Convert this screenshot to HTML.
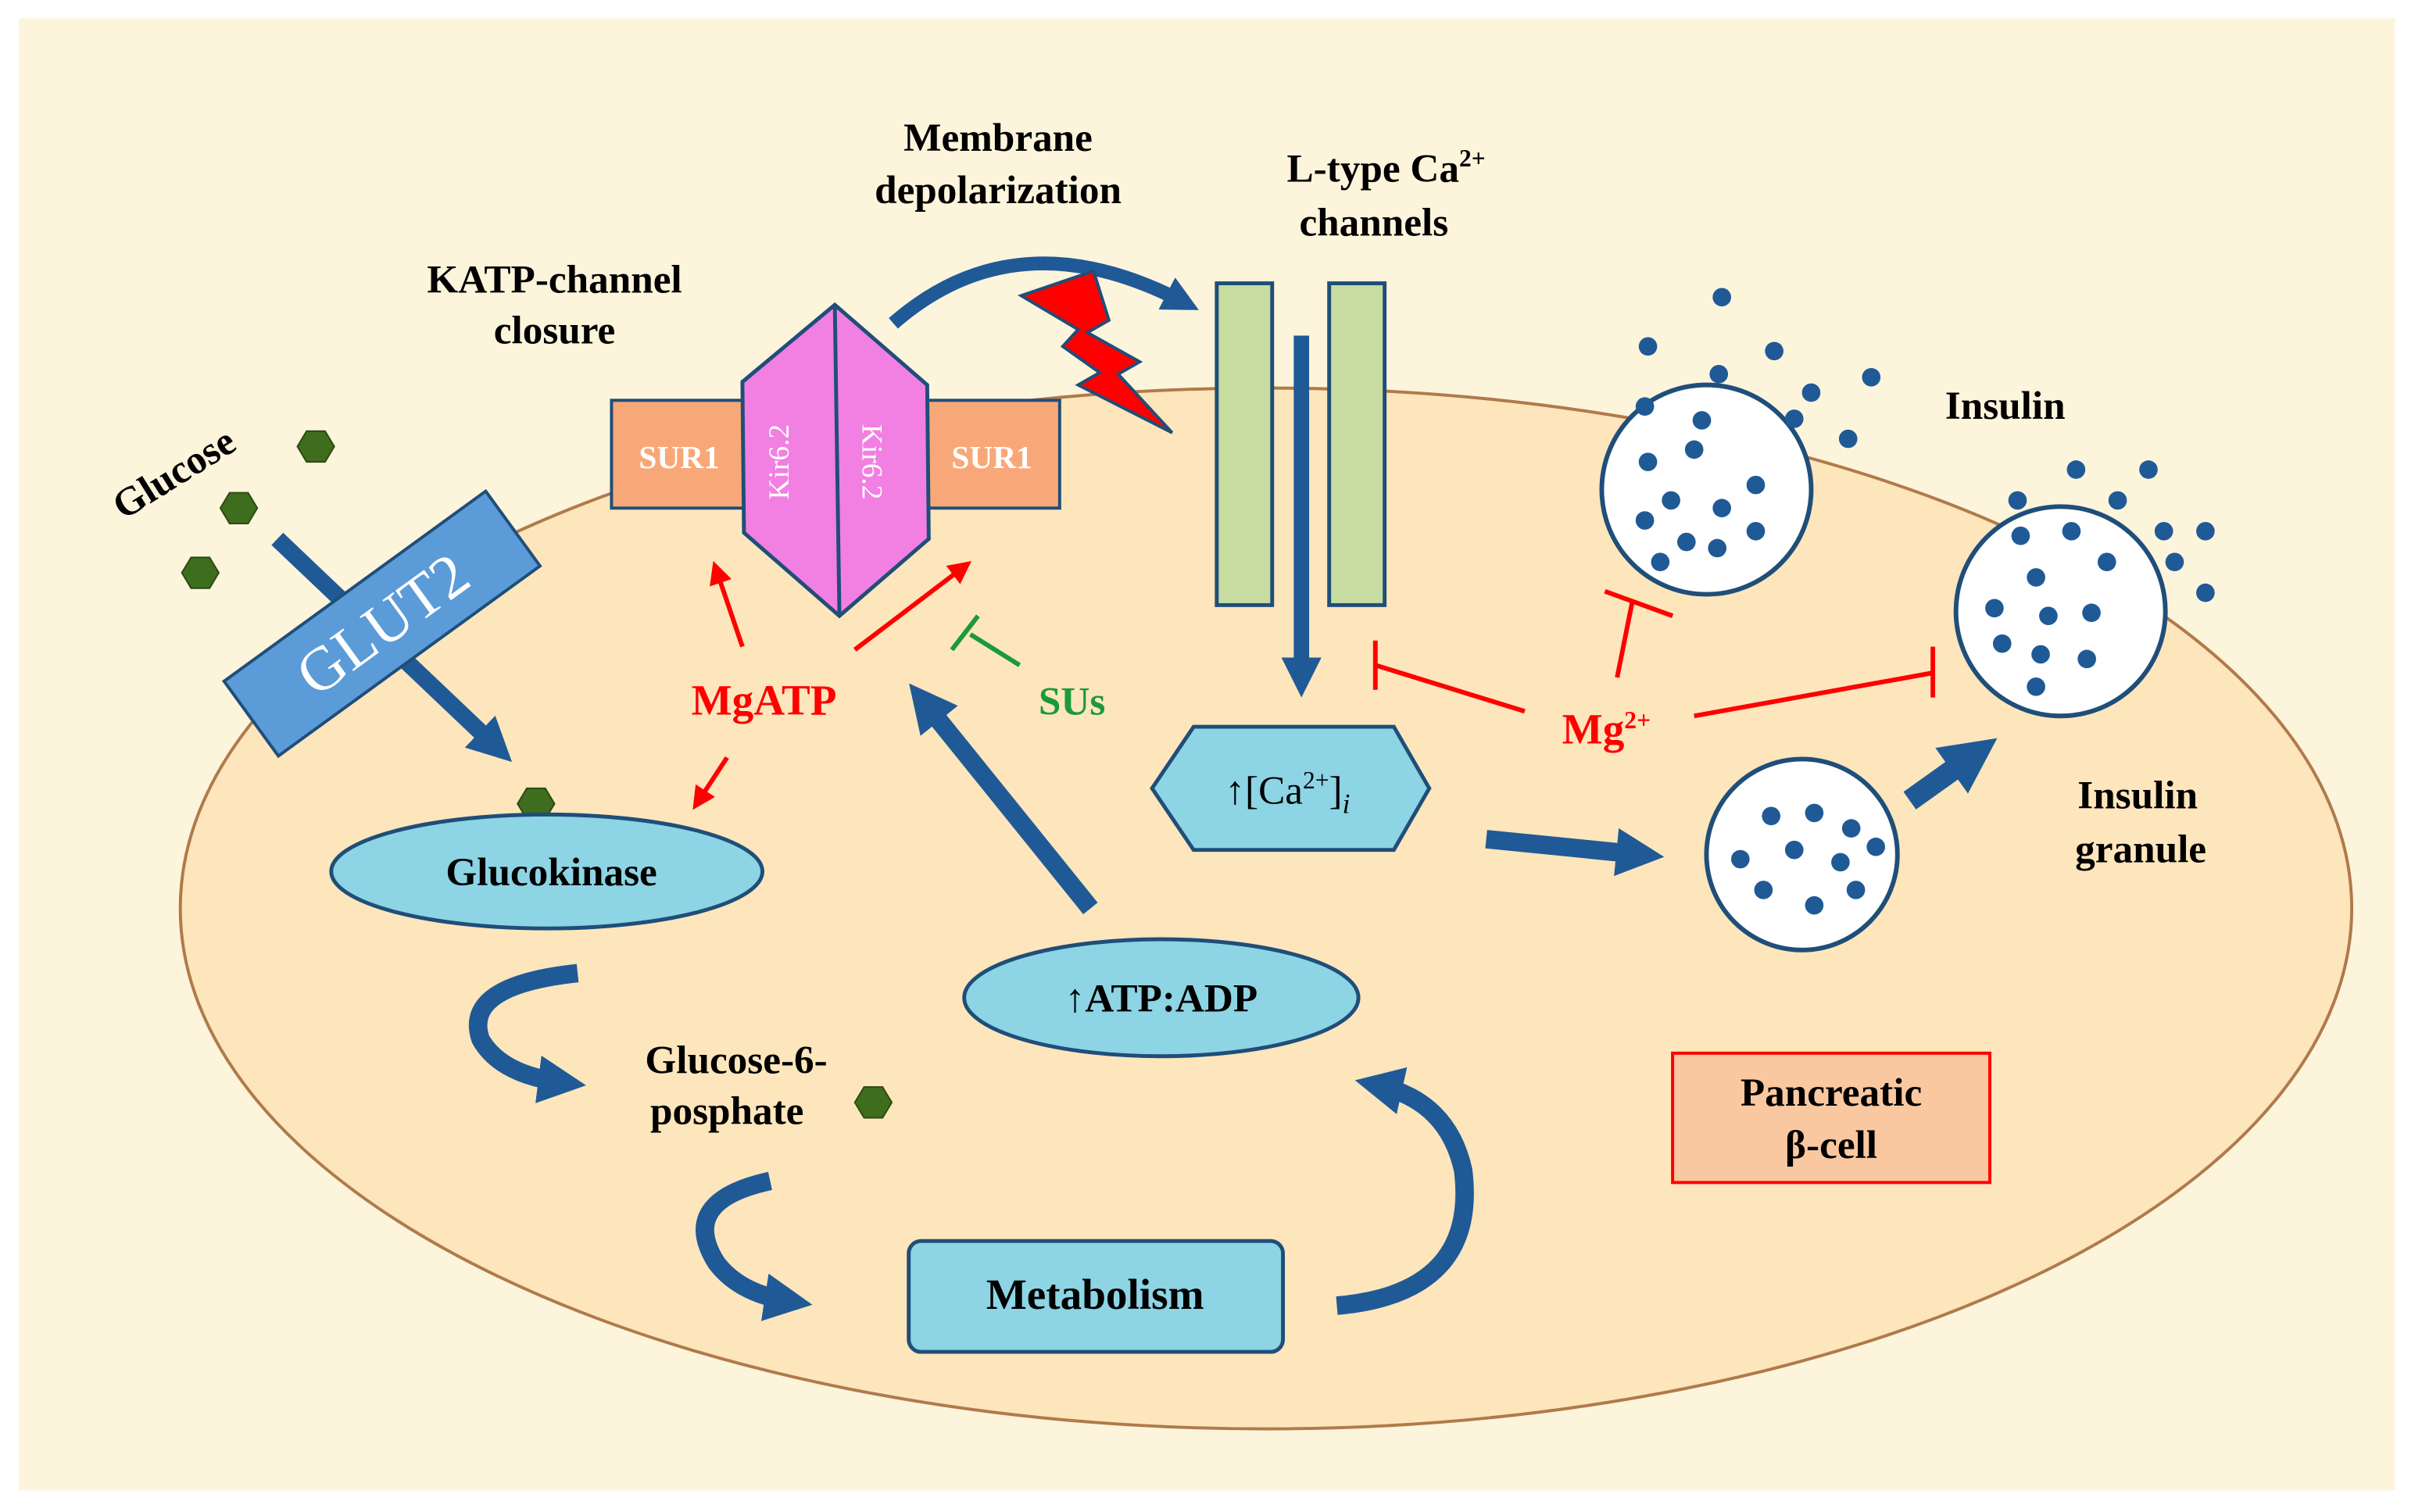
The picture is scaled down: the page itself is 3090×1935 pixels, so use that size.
<!DOCTYPE html>
<html><head><meta charset="utf-8"><style>html,body{margin:0;padding:0;background:#fff}svg{display:block}</style></head><body>
<svg width="3090" height="1935" viewBox="0 0 1568 982" xmlns="http://www.w3.org/2000/svg" font-family="Liberation Serif, serif" font-weight="bold">
<defs>
<marker id="bh" markerWidth="2.6" markerHeight="2.6" refX="1.3" refY="1.3" orient="auto" markerUnits="strokeWidth"><path d="M0,0 L2.6,1.3 L0,2.6 z" fill="#1f5a96"/></marker>
<marker id="rh" markerWidth="5" markerHeight="5" refX="3" refY="2.5" orient="auto" markerUnits="strokeWidth"><path d="M0,0 L5,2.5 L0,5 z" fill="#f00"/></marker>
</defs>
<rect width="1568" height="982" fill="#fff"/>
<rect x="12" y="12" width="1543" height="956" fill="#fdf4dc"/>
<ellipse cx="822" cy="590" rx="705" ry="338" fill="#fde5bc" stroke="#b07a4a" stroke-width="2"/>
<g fill="#3f6d1e" stroke="#2a4a12" stroke-width="1">
<polygon points="193,290 199,280 211,280 217,290 211,300 199,300"/>
<polygon points="143,330 149,320 161,320 167,330 161,340 149,340"/>
<polygon points="118,372 124,362 136,362 142,372 136,382 124,382"/>
<polygon points="336,522 342,512 354,512 360,522 354,532 342,532"/>
<polygon points="555,716 561,706 573,706 579,716 573,726 561,726"/>
</g>
<text x="0" y="0" font-size="26" transform="translate(80,338) rotate(-32)">Glucose</text>
<line x1="180" y1="350" x2="322" y2="485" stroke="#1f5a96" stroke-width="11" marker-end="url(#bh)"/>
<g transform="translate(248,405) rotate(-36)">
<rect x="-105" y="-30" width="210" height="60" fill="#5b9bd8" stroke="#1f4e79" stroke-width="2"/>
<text x="0" y="14" font-size="40" fill="#fff" text-anchor="middle" font-weight="normal">GLUT2</text>
</g>
<ellipse cx="355" cy="566" rx="140" ry="37" fill="#8dd4e4" stroke="#1f4e79" stroke-width="2.5"/>
<text x="358" y="575" font-size="26" text-anchor="middle">Glucokinase</text>
<text x="360" y="190" font-size="26" text-anchor="middle">KATP-channel</text>
<text x="360" y="223" font-size="26" text-anchor="middle">closure</text>
<text x="648" y="98" font-size="26" text-anchor="middle">Membrane</text>
<text x="648" y="132" font-size="26" text-anchor="middle">depolarization</text>
<text x="900" y="118" font-size="26" text-anchor="middle">L-type Ca<tspan font-size="16" dy="-10">2+</tspan></text>
<text x="892" y="153" font-size="26" text-anchor="middle">channels</text>
<rect x="397" y="260" width="88" height="70" fill="#f8a878" stroke="#1f4e79" stroke-width="2"/>
<rect x="600" y="260" width="88" height="70" fill="#f8a878" stroke="#1f4e79" stroke-width="2"/>
<text x="441" y="304" font-size="21" fill="#fff" text-anchor="middle">SUR1</text>
<text x="644" y="304" font-size="21" fill="#fff" text-anchor="middle">SUR1</text>
<polygon points="482,248 542,198 602,250 603,350 545,400 483,346" fill="#f27fe2" stroke="#1f4e79" stroke-width="2.5"/>
<line x1="542" y1="198" x2="545" y2="400" stroke="#1f4e79" stroke-width="2.5"/>
<text font-size="19" fill="#fff" font-weight="normal" text-anchor="middle" transform="translate(512,300) rotate(-90)">Kir6.2</text>
<text font-size="19" fill="#fff" font-weight="normal" text-anchor="middle" transform="translate(560,300) rotate(90)">Kir6.2</text>
<path d="M580,210 Q660,140 768,196" fill="none" stroke="#1f5a96" stroke-width="9" marker-end="url(#bh)"/>
<polygon points="663,192 710,176 720,208 706,216 740,235 726,243 761,281 700,250 714,242 690,225 700,214" fill="#f00" stroke="#1f4e79" stroke-width="2"/>
<rect x="790" y="184" width="36" height="209" fill="#c6dca0" stroke="#1f4e79" stroke-width="2.5"/>
<rect x="863" y="184" width="36" height="209" fill="#c6dca0" stroke="#1f4e79" stroke-width="2.5"/>
<line x1="845" y1="218" x2="845" y2="440" stroke="#1f5a96" stroke-width="10" marker-end="url(#bh)"/>
<polygon points="748,512 775,472 905,472 928,512 905,552 775,552" fill="#8dd4e4" stroke="#1f4e79" stroke-width="2.5"/>
<text x="836" y="522" font-size="26" text-anchor="middle" font-weight="normal">↑[Ca<tspan font-size="16" dy="-10">2+</tspan><tspan dy="10">]</tspan><tspan font-style="italic" font-size="18" dy="6">i</tspan></text>
<g stroke="#f00" stroke-width="3" fill="none">
<line x1="990" y1="462" x2="893" y2="432"/><line x1="893" y1="416" x2="893" y2="448"/>
<line x1="1050" y1="440" x2="1060" y2="390"/><line x1="1042" y1="384" x2="1086" y2="400"/>
<line x1="1100" y1="465" x2="1255" y2="437"/><line x1="1255" y1="420" x2="1255" y2="453"/>
<line x1="482" y1="420" x2="465" y2="370" marker-end="url(#rh)"/>
<line x1="555" y1="422" x2="626" y2="368" marker-end="url(#rh)"/>
<line x1="472" y1="492" x2="453" y2="521" marker-end="url(#rh)"/>
</g>
<g stroke="#1a9a3a" stroke-width="3"><line x1="662" y1="432" x2="630" y2="412"/><line x1="618" y1="422" x2="635" y2="400"/></g>
<text x="1043" y="483" font-size="28" fill="#f00" text-anchor="middle">Mg<tspan font-size="16" dy="-10">2+</tspan></text>
<text x="496" y="464" font-size="28" fill="#f00" text-anchor="middle">MgATP</text>
<text x="696" y="464" font-size="26" fill="#1a9a3a" text-anchor="middle">SUs</text>
<line x1="708" y1="590" x2="600" y2="456" stroke="#1f5a96" stroke-width="12" marker-end="url(#bh)"/>
<ellipse cx="754" cy="648" rx="128" ry="38" fill="#8dd4e4" stroke="#1f4e79" stroke-width="2.5"/>
<text x="754" y="657" font-size="26" text-anchor="middle">↑ATP:ADP</text>
<rect x="590" y="806" width="243" height="72" rx="8" fill="#8dd4e4" stroke="#1f4e79" stroke-width="2.5"/>
<text x="711" y="850" font-size="28" text-anchor="middle">Metabolism</text>
<text x="478" y="697" font-size="26" text-anchor="middle">Glucose-6-</text>
<text x="472" y="730" font-size="26" text-anchor="middle">posphate</text>
<g fill="none" stroke="#1f5a96" stroke-width="12">
<path d="M375,632 Q300,640 312,675 Q325,698 365,703" marker-end="url(#bh)"/>
<path d="M500,767 Q440,780 465,820 Q480,840 512,845" marker-end="url(#bh)"/>
<path d="M868,848 Q960,840 950,760 Q940,715 895,705" marker-end="url(#bh)"/>
<line x1="965" y1="545" x2="1065" y2="555" marker-end="url(#bh)"/>
<line x1="1240" y1="520" x2="1282" y2="490" marker-end="url(#bh)" stroke-width="14"/>
</g>
<g stroke="#1f4e79" stroke-width="3" fill="#fff">
<circle cx="1170" cy="555" r="62"/>
<circle cx="1108" cy="318" r="68"/>
<circle cx="1338" cy="397" r="68"/>
</g>
<g fill="#1f5a96">
<circle cx="1150" cy="530" r="6"/><circle cx="1178" cy="528" r="6"/><circle cx="1202" cy="538" r="6"/><circle cx="1130" cy="558" r="6"/><circle cx="1165" cy="552" r="6"/><circle cx="1195" cy="560" r="6"/><circle cx="1218" cy="550" r="6"/><circle cx="1145" cy="578" r="6"/><circle cx="1178" cy="588" r="6"/><circle cx="1205" cy="578" r="6"/>
<circle cx="1070" cy="300" r="6"/><circle cx="1100" cy="292" r="6"/><circle cx="1085" cy="325" r="6"/><circle cx="1118" cy="330" r="6"/><circle cx="1140" cy="315" r="6"/><circle cx="1068" cy="338" r="6"/><circle cx="1095" cy="352" r="6"/><circle cx="1115" cy="356" r="6"/><circle cx="1078" cy="365" r="6"/><circle cx="1140" cy="345" r="6"/>
<circle cx="1118" cy="193" r="6"/><circle cx="1070" cy="225" r="6"/><circle cx="1116" cy="243" r="6"/><circle cx="1152" cy="228" r="6"/><circle cx="1176" cy="255" r="6"/><circle cx="1215" cy="245" r="6"/><circle cx="1068" cy="264" r="6"/><circle cx="1105" cy="273" r="6"/><circle cx="1165" cy="272" r="6"/><circle cx="1200" cy="285" r="6"/>
<circle cx="1310" cy="325" r="6"/><circle cx="1348" cy="305" r="6"/><circle cx="1395" cy="305" r="6"/><circle cx="1375" cy="325" r="6"/><circle cx="1405" cy="345" r="6"/><circle cx="1432" cy="345" r="6"/><circle cx="1412" cy="365" r="6"/><circle cx="1432" cy="385" r="6"/>
<circle cx="1312" cy="348" r="6"/><circle cx="1345" cy="345" r="6"/><circle cx="1368" cy="365" r="6"/><circle cx="1322" cy="375" r="6"/><circle cx="1295" cy="395" r="6"/><circle cx="1330" cy="400" r="6"/><circle cx="1358" cy="398" r="6"/><circle cx="1300" cy="418" r="6"/><circle cx="1325" cy="425" r="6"/><circle cx="1355" cy="428" r="6"/><circle cx="1322" cy="446" r="6"/>
</g>
<text x="1302" y="272" font-size="26" text-anchor="middle">Insulin</text>
<text x="1388" y="525" font-size="26" text-anchor="middle">Insulin</text>
<text x="1390" y="560" font-size="26" text-anchor="middle">granule</text>
<rect x="1086" y="684" width="206" height="84" fill="#fac8a0" stroke="#f00" stroke-width="2"/>
<text x="1189" y="718" font-size="26" text-anchor="middle">Pancreatic</text>
<text x="1189" y="752" font-size="26" text-anchor="middle">β-cell</text>
</svg>
</body></html>
